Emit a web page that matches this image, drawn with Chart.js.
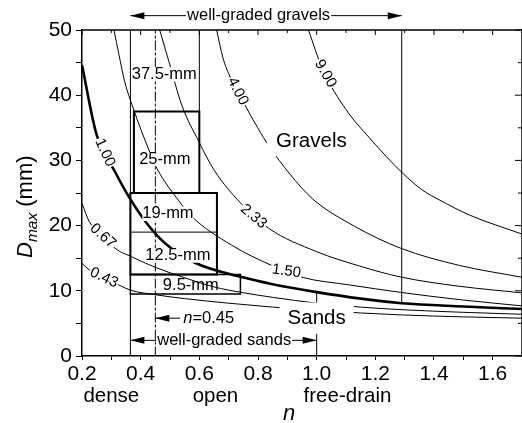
<!DOCTYPE html>
<html lang="en">
<head>
<meta charset="UTF-8">
<title>Dmax versus n</title>
<script src="https://cdn.jsdelivr.net/npm/chart.js"></script>
<style>
  html, body { margin: 0; padding: 0; background: #fff; overflow: hidden; }
  .chart-box { width: 524px; height: 423px; }
</style>
</head>
<body>
<div class="chart-box"><canvas id="dmaxChart" width="524" height="423"></canvas></div>
<script>
// values: n along x, Dmax (mm) along y

// gravel/sand ratio curves
const ratioLabels = ['9.00', '4.00', '2.33', '1.50', '1.00', '0.67', '0.43'];

const r900N = [0.972, 1.021, 1.10, 1.181, 1.294, 1.362, 1.42, 1.522, 1.70];
const r900D = [50, 43.9, 37.8, 33.4, 28.0, 25.4, 23.9, 21.6, 18.7];

const r400N = [0.659, 0.68, 0.707, 0.754, 0.799, 0.839, 0.907, 0.986, 1.129, 1.288, 1.486, 1.697];
const r400D = [50, 45.8, 42.6, 38.6, 35.0, 32.1, 28.0, 24.1, 19.9, 16.5, 13.9, 12.1];

const r233N = [0.465, 0.496, 0.540, 0.598, 0.652, 0.74, 0.836, 1.0, 1.146, 1.288, 1.486, 1.697];
const r233D = [50, 45.2, 38.5, 32.9, 28.4, 23.5, 19.6, 16.0, 13.8, 12.1, 10.7, 9.7];

const r150N = [0.309, 0.326, 0.346, 0.373, 0.428, 0.455, 0.530, 0.574, 0.710, 0.846, 0.948, 1.112, 1.288, 1.486, 1.697];
const r150D = [50, 46.2, 42.0, 38.2, 31.6, 28.8, 23.8, 21.4, 17.0, 13.9, 12.1, 10.9, 9.75, 8.65, 7.7];

const r100N = [0.2, 0.25, 0.312, 0.36, 0.42, 0.483, 0.585, 0.745, 0.85, 1.0, 1.15, 1.29, 1.5, 1.7];
const r100D = [44.6, 33.9, 28.3, 24.4, 20.4, 17.3, 14.3, 12.1, 11.0, 9.8, 8.8, 8.1, 7.6, 7.2];

const r067N = [0.2, 0.225, 0.32, 0.365, 0.45, 0.55, 0.65, 0.75, 0.85, 1.0, 1.15, 1.29, 1.5, 1.7];
const r067D = [23.4, 20.6, 16.3, 15.3, 13.6, 12.0, 10.6, 9.7, 9.0, 8.1, 7.5, 7.1, 6.7, 6.4];

const r043N = [0.2, 0.225, 0.33, 0.365, 0.45, 0.55, 0.7, 0.85, 1.0, 1.15, 1.29, 1.5, 1.7];
const r043D = [14.2, 13.2, 10.8, 10.1, 9.4, 8.8, 8.1, 7.5, 7.0, 6.6, 6.3, 6.0, 5.8];

// nominal maximum size boxes
const boxLabels = ['37.5-mm', '25-mm', '19-mm', '12.5-mm', '9.5-mm'];
const box375N = [0.6, 0.6];
const box375D = [37.5, 50];
const box25N = [0.377, 0.377, 0.6, 0.6, 0.377];
const box25D = [25, 37.5, 37.5, 25, 25];
const box19N = [0.365, 0.365, 0.66, 0.66, 0.365];
const box19D = [12.5, 25, 25, 12.5, 12.5];
const box125N = [0.365, 0.66];
const box125D = [19, 19];
const box95N = [0.365, 0.365, 0.74, 0.74, 0.365];
const box95D = [9.5, 12.5, 12.5, 9.5, 9.5];

// limit lines
const denseN = [0.365, 0.365];
const denseD = [0, 50];
const optimumN = [0.45, 0.45];
const optimumD = [0, 50];
const freeDrainN = [1.0, 1.0];
const freeDrainD = [0, 9.8];
const gravelN = [1.29, 1.29];
const gravelD = [8.1, 50];

const regimes = ['dense', 'open', 'free-drain'];
const regimeN = [0.3, 0.655, 1.105];

const FONT = '"Liberation Sans", Arial, Helvetica, sans-serif';

function pts(ns, ds) {
    return ns.map((n, i) => ({ x: n, y: ds[i] }));
}

function curve(ns, ds, w) {
    return {
        data: pts(ns, ds), showLine: true, borderColor: '#000', borderWidth: w,
        pointRadius: 0, cubicInterpolationMode: 'monotone', fill: false
    };
}

function poly(ns, ds, w, dash) {
    return {
        data: pts(ns, ds), showLine: true, borderColor: '#000', borderWidth: w,
        pointRadius: 0, tension: 0, fill: false, borderDash: dash || [],
        borderCapStyle: 'square', borderJoinStyle: 'miter'
    };
}

const datasets = [
    poly(box375N, box375D, 1),
    poly(box25N, box25D, 2),
    poly(box19N, box19D, 2),
    poly(box125N, box125D, 1),
    poly(box95N, box95D, 1.5),
    poly(denseN, denseD, 1),
    poly(optimumN, optimumD, 1, [9, 3, 2, 3]),
    poly(freeDrainN, freeDrainD, 1),
    poly(gravelN, gravelD, 1),
    curve(r900N, r900D, 1),
    curve(r400N, r400D, 1),
    curve(r233N, r233D, 1),
    curve(r150N, r150D, 1),
    curve(r100N, r100D, 2.6),
    curve(r067N, r067D, 1),
    curve(r043N, r043D, 1)
];

// where the texts sit (data units) and their slant
const place = {
    ratio: [
        { n: 1.03, d: 43.3, a: 60 }, { n: 0.731, d: 40.6, a: 63 }, { n: 0.785, d: 21.4, a: 40 },
        { n: 0.897, d: 13.0, a: 8 }, { n: 0.278, d: 31.2, a: 65 }, { n: 0.271, d: 18.4, a: 42 },
        { n: 0.275, d: 12.0, a: 25 }
    ],
    box: [
        { n: 0.4806, d: 43.2, bg: true }, { n: 0.4825, d: 30.2, bg: true }, { n: 0.493, d: 21.8, bg: true },
        { n: 0.527, d: 15.4, bg: true }, { n: 0.571, d: 10.8, bg: false }
    ],
    gravels: { n: 0.982, d: 32.9 },
    sands: { n: 1.0, d: 5.8 }
};

function textAt(ctx, text, x, y, font, angle, bg, padX, padY) {
    ctx.save();
    ctx.translate(x, y);
    ctx.rotate(angle * Math.PI / 180);
    ctx.font = font;
    ctx.textAlign = 'center';
    ctx.textBaseline = 'middle';
    const w = ctx.measureText(text).width;
    const h = parseFloat(font.match(/([\d.]+)px/)[1]) * 0.75;
    if (bg) {
        ctx.fillStyle = '#fff';
        ctx.fillRect(-w / 2 - padX, -h / 2 - padY, w + 2 * padX, h + 2 * padY);
    }
    ctx.fillStyle = '#000';
    ctx.fillText(text, 0, 0);
    ctx.restore();
}

function head(ctx, x, y, dir) {
    ctx.beginPath();
    ctx.moveTo(x, y);
    ctx.lineTo(x - dir * 14, y - 3.5);
    ctx.lineTo(x - dir * 14, y + 3.5);
    ctx.closePath();
    ctx.fill();
}

function arrow(ctx, x1, x2, y, text, textX, align) {
    ctx.strokeStyle = '#000';
    ctx.fillStyle = '#000';
    ctx.lineWidth = 1;
    ctx.beginPath();
    ctx.moveTo(x1, y);
    ctx.lineTo(x2, y);
    ctx.stroke();
    head(ctx, x1, y, -1);
    head(ctx, x2, y, 1);
    ctx.font = '16.5px ' + FONT;
    const w = ctx.measureText(text).width;
    const left = align === 'left' ? textX : textX - w / 2;
    ctx.fillStyle = '#fff';
    ctx.fillRect(left - 1, y - 8, w + 2, 16);
    ctx.fillStyle = '#000';
    ctx.textAlign = 'left';
    ctx.textBaseline = 'middle';
    ctx.fillText(text, left, y);
}

const annotate = {
    id: 'annotate',
    afterDatasetsDraw(chart) {
        const { ctx, chartArea: a, scales: { x, y } } = chart;
        const px = v => x.getPixelForValue(v);
        const py = v => y.getPixelForValue(v);
        ctx.save();

        // labels on the ratio curves
        ratioLabels.forEach((t, i) => {
            const p = place.ratio[i];
            textAt(ctx, t, px(p.n), py(p.d), '15px ' + FONT, p.a, true, 1, 1);
        });
        // box labels
        boxLabels.forEach((t, i) => {
            const p = place.box[i];
            textAt(ctx, t, px(p.n), py(p.d), '16.5px ' + FONT, 0, p.bg, 0, 1);
        });
        textAt(ctx, 'Gravels', px(place.gravels.n), py(place.gravels.d), '20.5px ' + FONT, 0, true, 9, 7);
        textAt(ctx, 'Sands', px(place.sands.n), py(place.sands.d), '20.5px ' + FONT, 0, true, 8, 8);

        // arrows
        arrow(ctx, px(0.365), px(1.29), py(52.2), 'well-graded gravels', px(0.802), 'center');
        arrow(ctx, px(0.365), px(1.0), py(2.4), 'well-graded sands', px(0.4565), 'left');

        // n = 0.45 pointer
        const yq = py(5.8);
        ctx.strokeStyle = '#000';
        ctx.fillStyle = '#000';
        ctx.lineWidth = 1;
        ctx.beginPath();
        ctx.moveTo(px(0.45), yq);
        ctx.lineTo(px(0.535), yq);
        ctx.stroke();
        head(ctx, px(0.45), yq, -1);
        ctx.textAlign = 'left';
        ctx.textBaseline = 'middle';
        let tx = px(0.545);
        ctx.font = 'italic 16.5px ' + FONT;
        ctx.fillText('n', tx, yq);
        tx += ctx.measureText('n').width;
        ctx.font = '16.5px ' + FONT;
        ctx.fillText('=0.45', tx, yq);

        // frame: top and right, with inward ticks
        ctx.strokeStyle = '#000';
        ctx.lineWidth = 1.5;
        ctx.beginPath();
        ctx.moveTo(a.left, a.top);
        ctx.lineTo(a.right, a.top);
        ctx.lineTo(a.right, a.bottom);
        ctx.stroke();
        ctx.lineWidth = 1;
        x.ticks.forEach(t => {
            const xp = px(t.value);
            const major = Math.round(t.value * 10) % 2 === 0;
            ctx.beginPath();
            ctx.moveTo(xp, a.top);
            ctx.lineTo(xp, a.top + (major ? 5 : 3));
            ctx.stroke();
        });
        y.ticks.forEach(t => {
            const yp = py(t.value);
            const major = t.value % 10 === 0;
            ctx.beginPath();
            ctx.moveTo(a.right, yp);
            ctx.lineTo(a.right - (major ? 7 : 4), yp);
            ctx.stroke();
        });

        // texts under the n axis
        ctx.fillStyle = '#000';
        ctx.textAlign = 'center';
        ctx.textBaseline = 'alphabetic';
        ctx.font = '20.5px ' + FONT;
        regimes.forEach((t, i) => ctx.fillText(t, px(regimeN[i]), 402));
        ctx.font = 'italic 22px ' + FONT;
        ctx.fillText('n', 289, 420);

        // y axis title: D_max (mm)
        ctx.save();
        ctx.translate(32, 258);
        ctx.rotate(-Math.PI / 2);
        ctx.textAlign = 'left';
        ctx.font = 'italic 22px ' + FONT;
        ctx.fillText('D', 0, 0);
        let w = ctx.measureText('D').width;
        ctx.font = 'italic 15.5px ' + FONT;
        ctx.fillText('max', w, 5);
        w += ctx.measureText('max').width;
        ctx.font = '22px ' + FONT;
        ctx.fillText(' (mm)', w, 0);
        ctx.restore();

        ctx.restore();
    }
};

Chart.defaults.font.family = FONT;
Chart.defaults.color = '#000';

new Chart(document.getElementById('dmaxChart'), {
    type: 'scatter',
    data: { datasets: datasets },
    options: {
        responsive: false,
        animation: false,
        layout: { padding: { top: 30, right: 1, left: 0, bottom: 0 } },
        plugins: { legend: { display: false }, tooltip: { enabled: false } },
        scales: {
            x: {
                type: 'linear', min: 0.2, max: 1.7,
                afterFit: s => { s.height = 67; },
                border: { display: true, color: '#000', width: 1.5 },
                grid: { drawOnChartArea: false, drawTicks: true, tickLength: 4, color: '#000' },
                ticks: {
                    stepSize: 0.1, autoSkip: false, maxRotation: 0, padding: 2,
                    font: { size: 21 }, color: '#000',
                    callback: v => {
                        const k = Math.round(v * 10);
                        return k % 2 === 0 ? (k / 10).toFixed(1) : '';
                    }
                }
            },
            y: {
                type: 'linear', min: 0, max: 50,
                afterFit: s => { s.width = 82; },
                border: { display: true, color: '#000', width: 1.5 },
                grid: { drawOnChartArea: false, drawTicks: true, tickLength: 6, color: '#000' },
                ticks: {
                    stepSize: 5, autoSkip: false, padding: 4,
                    font: { size: 21 }, color: '#000',
                    callback: v => (v % 10 === 0 ? String(v) : '')
                }
            }
        }
    },
    plugins: [annotate]
});
</script>
</body>
</html>
